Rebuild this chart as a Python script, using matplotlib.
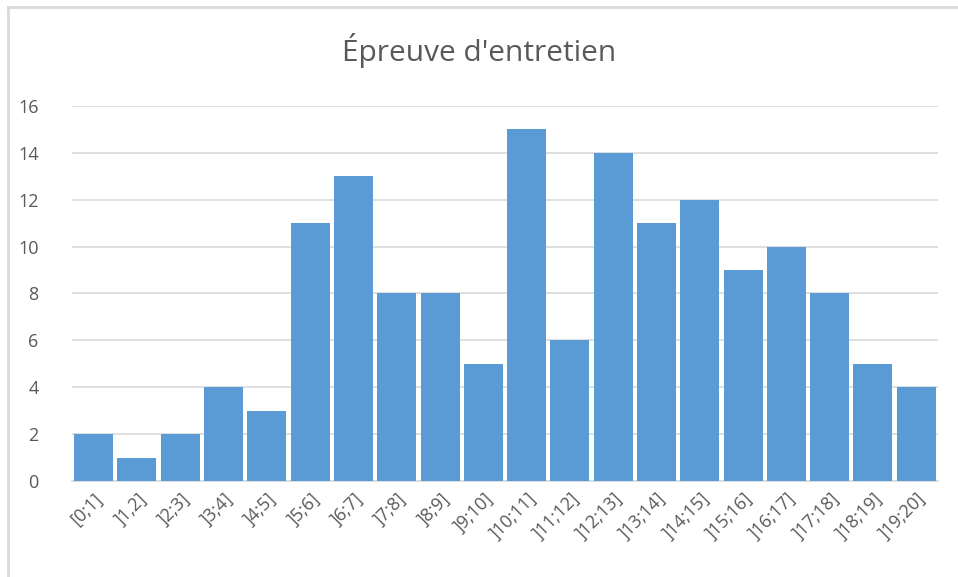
import numpy as np
import matplotlib.pyplot as plt
from matplotlib.lines import Line2D

################################################################################
# Datos

intervalles = ["[0;1]", "]1,2]", "]2;3]", "]3;4]", "]4;5]", "]5;6]", "]6;7]",
               "]7;8]", "]8;9]", "]9;10]", "]10;11]", "]11;12]", "]12;13]",
               "]13;14]", "]14;15]", "]15;16]", "]16;17]", "]17;18]",
               "]18;19]", "]19;20]"]
effectifs = [2, 1, 2, 4, 3, 11, 13, 8, 8, 5, 15, 6, 14, 11, 12, 9, 10, 8, 5, 4]

titre = "Épreuve d'entretien"

################################################################################
# Figure

plt.rcParams['font.family'] = ['Open Sans', 'DejaVu Sans']
gris = "#595959"

fig = plt.figure(figsize=(9.58, 5.77), dpi=100)
ax = fig.add_axes([0.0752, 0.1664, 0.9038, 0.6499])

x = np.arange(len(intervalles))
ax.bar(x, effectifs, width=0.9, color="#5B9BD5", zorder=3)

ax.set_xlim(-0.5, len(intervalles) - 0.5)
ax.set_ylim(0, 16)
ax.set_yticks(range(0, 17, 2))
ax.set_xticks(x)
ax.set_xticklabels(intervalles, rotation=45, ha="right", rotation_mode="anchor")

ax.tick_params(axis="both", length=0, labelsize=13, colors=gris)
ax.tick_params(axis="y", pad=24)
ax.tick_params(axis="x", pad=6)
ax.grid(axis="y", color="#D9D9D9", linewidth=1.2, zorder=0)
for s in ["top", "right", "left"]:
    ax.spines[s].set_visible(False)
ax.spines["bottom"].set_color("#D9D9D9")
ax.spines["bottom"].set_linewidth(1.2)

fig.text(0.5, 1 - 50 / 577, titre, ha="center", va="center",
         fontsize=21.5, color=gris)

# Cadre du graphique (haut et gauche visibles)
x0 = 7.5 / 958
y0 = 1 - 7 / 577
fig.lines.append(Line2D([x0, 1.0], [y0, y0], transform=fig.transFigure,
                        color="#D9D9D9", linewidth=2))
fig.lines.append(Line2D([x0, x0], [0.0, y0], transform=fig.transFigure,
                        color="#D9D9D9", linewidth=2))

plt.savefig("out.png", dpi=100)
